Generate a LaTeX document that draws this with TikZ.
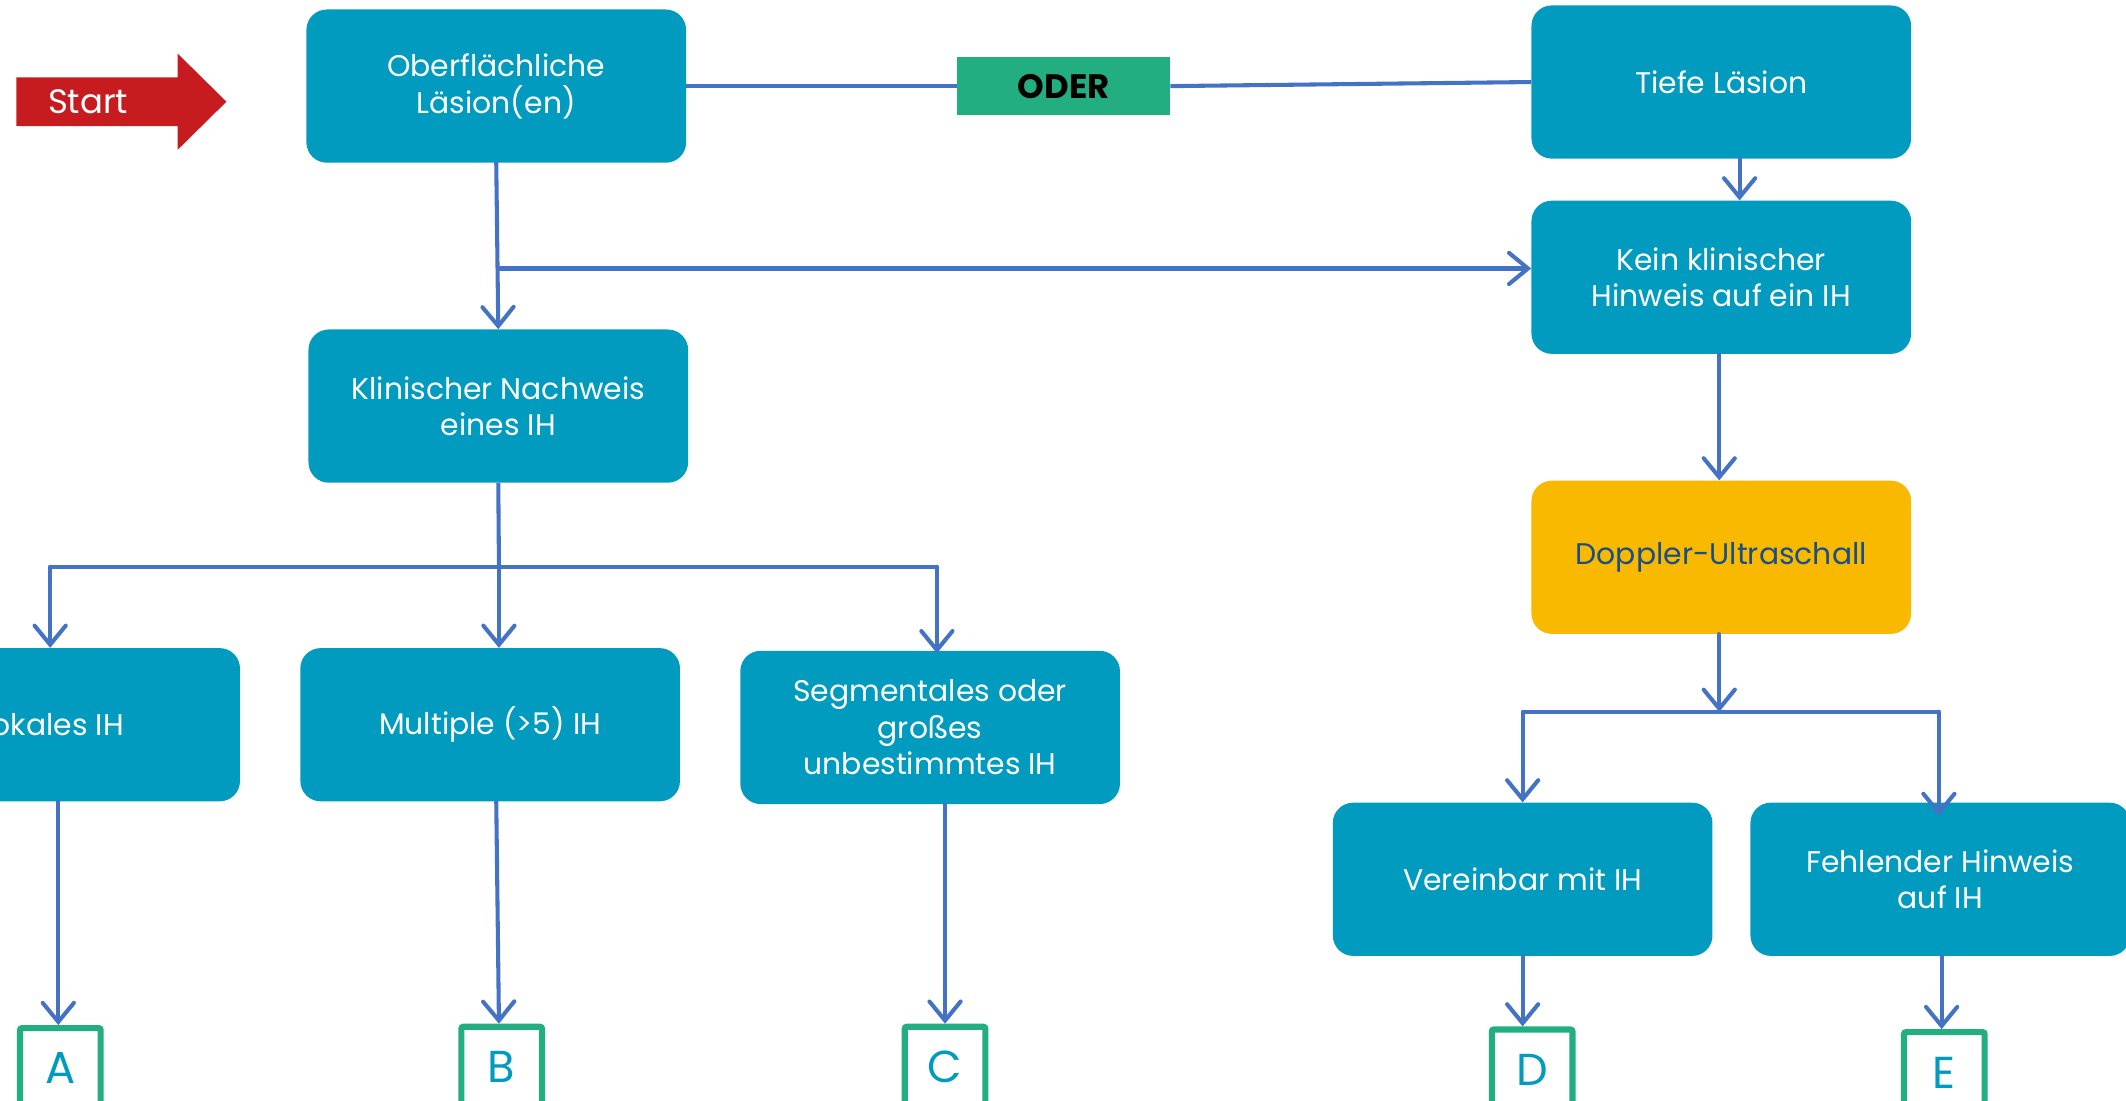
\documentclass[tikz,border=0pt]{standalone}
\usepackage{fontspec}
\setmainfont{Poppins}
\usetikzlibrary{arrows.meta,calc}
\definecolor{boxteal}{RGB}{1,155,191}
\definecolor{linblue}{RGB}{68,114,196}
\definecolor{oderg}{RGB}{35,174,130}
\definecolor{startred}{RGB}{198,27,31}
\definecolor{dopy}{RGB}{249,185,0}
\definecolor{doptext}{RGB}{24,78,138}
\tikzset{
  box/.style={rectangle, rounded corners=15pt, fill=boxteal, text=white,
    minimum width=280pt, minimum height=113pt, align=center,
    font=\fontsize{22}{27}\selectfont, inner sep=0pt},
  dopbox/.style={box, fill=dopy, text=doptext},
  oderbox/.style={rectangle, fill=oderg, minimum width=157pt, minimum height=43pt,
    font=\fontsize{25}{28}\selectfont\bfseries, text=black, inner sep=0pt},
  letterbox/.style={rectangle, draw=oderg, line width=4.5pt, rounded corners=1.5pt,
    minimum width=59.5pt, minimum height=59.5pt, text=boxteal,
    font=\fontsize{33}{36}\selectfont, inner sep=0pt},
  conn/.style={draw=linblue, line width=3pt},
  arr/.style={conn, line cap=round, -{Straight Barb[length=14pt,width=23pt,line width=3pt,line cap=round]}},
}
\begin{document}
\begin{tikzpicture}[x=1pt,y=-1pt]
\useasboundingbox (0,0) rectangle (1568,812);
% start arrow
\fill[startred] (12,57) -- (131,57) -- (131,39.5) -- (167,75) -- (131,110.5) -- (131,93) -- (12,93) -- cycle;
\node[text=white, font=\fontsize{25}{28}\selectfont, inner sep=0pt] (start) at (65,75) {Start};
% nodes
\node[box] (O) at (366,63.5) {Oberflächliche\\Läsion(en)};
\node[oderbox] (oder) at (784.5,63.5) {ODER};
\node[box] (tief) at (1269.5,60.5) {Tiefe Läsion};
\node[box] (kein) at (1269.5,204.5) {Kein klinischer\\Hinweis auf ein IH};
\node[box] (klin) at (367.5,299.5) {Klinischer Nachweis\\eines IH};
\node[dopbox] (dop) at (1269.5,411) {Doppler-Ultraschall};
\node[box] (fok) at (37,534.5) {Fokales IH};
\node[box] (mult) at (361.5,534.5) {Multiple (>5) IH};
\node[box] (seg) at (686,536.5) {Segmentales oder\\großes\\unbestimmtes IH};
\node[box] (ver) at (1123,648.5) {Vereinbar mit IH};
\node[box] (feh) at (1431,648.5) {Fehlender Hinweis\\auf IH};
\node[letterbox] (A) at (44.5,788) {A};
\node[letterbox] (B) at (370,787) {B};
\node[letterbox] (C) at (697,787) {C};
\node[letterbox] (D) at (1130,789) {D};
\node[letterbox] (E) at (1434,791) {E};
% coordinates
\coordinate (j1) at (369,198);
\coordinate (j2) at (368,418);
\coordinate (j2l) at (37,418);
\coordinate (j2r) at (691,418);
\coordinate (j3) at (1268,525);
\coordinate (j3l) at (1123,525);
\coordinate (j3r) at (1430,525);
% connectors
\draw[conn] (O.east) -- (oder.west);
\draw[conn] (oder.east) -- (tief.west);
\draw[arr] (O.south) -- (klin.north);
\draw[arr] (j1) -- (j1 -| kein.west);
\draw[arr] ([xshift=13.5pt]tief.south) -- ([xshift=13.5pt]kein.north);
\draw[arr] ([xshift=-1.5pt]kein.south) -- ([xshift=-1.5pt]dop.north);
\draw[conn] (klin.south) -- (j2);
\draw[conn] (j2l) -- (j2r);
\draw[arr] (j2l) -- (j2l |- fok.north);
\draw[arr] (j2) -- (j2 |- mult.north);
\draw[arr] (j2r) -- ([yshift=-2pt]j2r |- seg.north);
\draw[arr] ([xshift=-1.5pt]dop.south) -- (j3);
\draw[conn] (j3l) -- (j3r);
\draw[arr] (j3l) -- (j3l |- ver.north);
\draw[arr] (j3r) -- ([yshift=-10pt]j3r |- feh.north);
\draw[arr] ([xshift=-1.5pt]A.north |- fok.south) -- ([xshift=-1.5pt]A.north);
\draw[arr] ([xshift=-4pt]B.north |- mult.south) -- ([xshift=-2pt]B.north);
\draw[arr] (C.north |- seg.south) -- (C.north);
\draw[arr] ([xshift=-7pt]D.north |- ver.south) -- ([xshift=-7pt]D.north);
\draw[arr] ([xshift=-2pt]E.north |- feh.south) -- ([xshift=-2pt]E.north);
\end{tikzpicture}
\end{document}
